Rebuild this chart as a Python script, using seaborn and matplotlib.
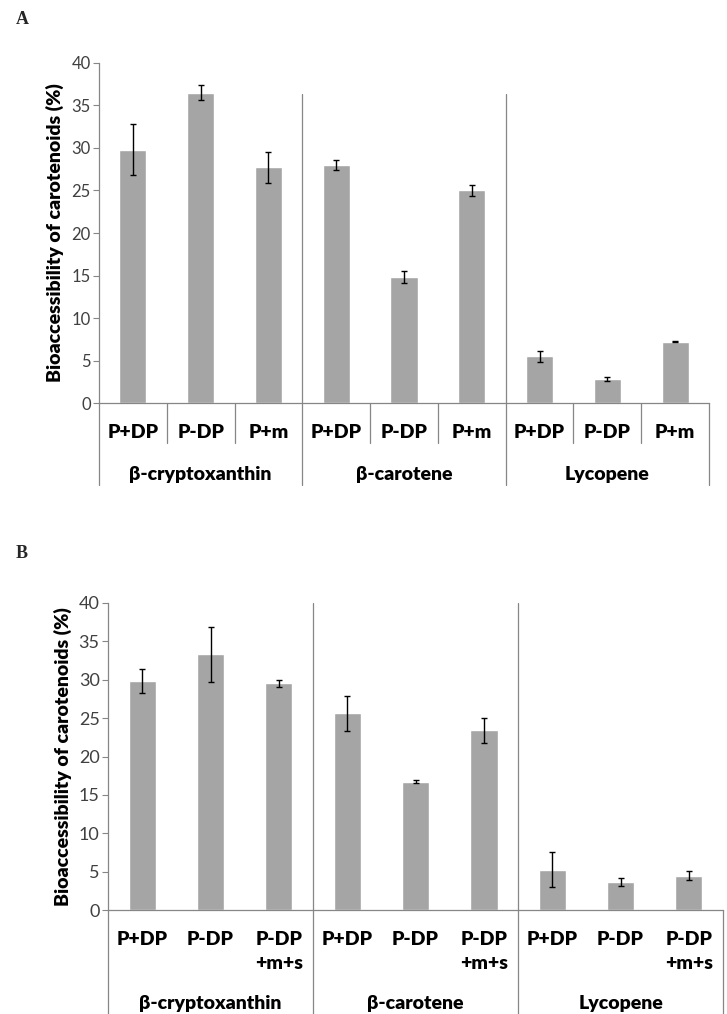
import numpy as np
import pandas as pd
import seaborn as sns
import matplotlib
matplotlib.use('Agg')
import matplotlib.pyplot as plt
import matplotlib.transforms as mtransforms

# Data
groups = ['β-cryptoxanthin', 'β-carotene', 'Lycopene']
treat_a = ['P+DP', 'P-DP', 'P+m']
treat_b = ['P+DP', 'P-DP', 'P-DP\n+m+s']

values_a = [29.8, 36.5, 27.7, 28.0, 14.8, 25.0, 5.5, 2.85, 7.25]
errors_a = [3.0, 0.9, 1.8, 0.6, 0.7, 0.65, 0.6, 0.2, 0.05]

values_b = [29.8, 33.3, 29.5, 25.6, 16.7, 23.4, 5.3, 3.65, 4.5]
errors_b = [1.6, 3.6, 0.45, 2.3, 0.2, 1.6, 2.25, 0.5, 0.55]

BAR = '#a5a5a5'
LINE = '#868686'
FONT = ['Lato', 'DejaVu Sans']

sns.set_theme(style='white')
plt.rcParams['font.family'] = FONT


def make_frame(treats, values):
    keys = ['{}|{}'.format(g, t) for g in groups for t in treats]
    return pd.DataFrame({'key': keys, 'value': values})


def panel(ax, treats, values, errors, divider_top, sub_bottom,
          group_y, group_bottom, show_sub_lines, tick_size, pad):
    df = make_frame(treats, values)
    sns.barplot(data=df, x='key', y='value', order=list(df['key']),
                color=BAR, width=0.4, saturation=1, ax=ax, errorbar=None)
    xs = np.arange(len(values))
    ax.errorbar(xs, values, yerr=errors, fmt='none', ecolor='black',
                elinewidth=1, capsize=2.5, capthick=1)

    ax.set_xlim(-0.5, len(values) - 0.5)
    ax.set_ylim(0, 40)
    ax.set_yticks(range(0, 41, 5))
    ax.tick_params(axis='y', labelsize=tick_size, labelcolor='#404040',
                   length=4, width=0.8, color=LINE, direction='out', left=True, pad=2)
    ax.set_xticks(xs)
    ax.set_xticklabels([t for g in groups for t in treats], fontweight='heavy',
                       fontsize=14, color='black', linespacing=1.5)
    ax.tick_params(axis='x', length=0, pad=pad)
    ax.set_xlabel('')
    ax.set_ylabel('Bioaccessibility of carotenoids (%)', fontsize=14,
                  fontweight='heavy', color='black', labelpad=5)

    for s in ['top', 'right']:
        ax.spines[s].set_visible(False)
    for s in ['left', 'bottom']:
        ax.spines[s].set_color(LINE)
        ax.spines[s].set_linewidth(0.9)

    trans = mtransforms.blended_transform_factory(ax.transData, ax.transAxes)
    # group dividers inside the plot
    for x in [2.5, 5.5]:
        ax.plot([x, x], [0, divider_top], transform=trans, color=LINE,
                lw=0.9, clip_on=False)
    # category lines below the axis
    for x in [-0.5, 2.5, 5.5, 8.5]:
        ax.plot([x, x], [0, group_bottom], transform=trans, color=LINE,
                lw=0.9, clip_on=False)
    if show_sub_lines:
        for x in [0.5, 1.5, 3.5, 4.5, 6.5, 7.5]:
            ax.plot([x, x], [0, sub_bottom], transform=trans, color=LINE,
                    lw=0.9, clip_on=False)
    for i, g in enumerate(groups):
        ax.text(3 * i + 1, group_y, g, transform=trans, ha='center',
                va='center', fontsize=14, fontweight='heavy', color='black')


fig = plt.figure(figsize=(7.27, 10.14), dpi=100)
ax_a = fig.add_axes([99 / 727, 1 - 403.3 / 1014, 610 / 727, 340.6 / 1014])
ax_b = fig.add_axes([108 / 727, 1 - 910.3 / 1014, 615 / 727, 307.6 / 1014])

panel(ax_a, treat_a, values_a, errors_a, divider_top=0.908,
      sub_bottom=-0.117, group_y=-0.21, group_bottom=-0.24,
      show_sub_lines=True, tick_size=12, pad=15)
panel(ax_b, treat_b, values_b, errors_b, divider_top=1.0,
      sub_bottom=-0.1, group_y=-0.302, group_bottom=-0.4,
      show_sub_lines=False, tick_size=13, pad=15)

# labels of the two panels
fig.text(16 / 727, 1 - 19 / 1014, 'A', fontsize=13, fontweight='bold',
         family='Liberation Serif', va='center')
fig.text(16 / 727, 1 - 553 / 1014, 'B', fontsize=13, fontweight='bold',
         family='Liberation Serif', va='center')

fig.savefig('out.png', dpi=100)
